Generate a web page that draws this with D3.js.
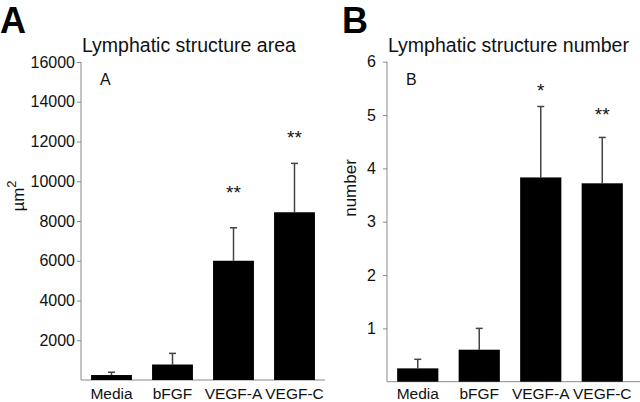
<!DOCTYPE html>
<html>
<head>
<meta charset="utf-8">
<script src="https://cdn.jsdelivr.net/npm/d3@7"></script>
<style>
  html, body { margin: 0; padding: 0; background: #fff; }
  svg { display: block; font-family: "Liberation Sans", Arial, Helvetica, sans-serif; }
</style>
</head>
<body>
<svg id="chart" width="640" height="402"></svg>
<script>
// ---- data ----
const categories = ["Media", "bFGF", "VEGF-A", "VEGF-C"];

const areaMean = [250, 780, 6000, 8440];
const areaErr  = [140, 560, 1660, 2460];
const areaSig  = ["", "", "**", "**"];
const areaSigAt = [null, null, 9600, 12400];
const areaTicks = [2000, 4000, 6000, 8000, 10000, 12000, 14000, 16000];

const numberMean = [0.25, 0.6, 3.83, 3.72];
const numberErr  = [0.17, 0.4, 1.33, 0.86];
const numberSig  = ["", "", "*", "**"];
const numberSigAt = [null, null, 5.53, 5.08];
const numberTicks = [1, 2, 3, 4, 5, 6];

// ---- drawing ----
const svg = d3.select("#chart");
const axisColor = "#8a8a8a";
const errColor = "#444";

function panel(cfg) {
  const g = svg.append("g");
  const y = d3.scaleLinear().domain([0, cfg.max]).range([cfg.y0, cfg.y1]);
  const x = d3.scaleBand().domain(categories).range([cfg.x0, cfg.x1])
    .paddingInner(0.33).paddingOuter(0.165);

  // big panel letter
  g.append("text").attr("x", cfg.letterX).attr("y", 33)
    .attr("font-size", 36).attr("font-weight", "bold").attr("fill", "#000")
    .text(cfg.letter);

  // title
  g.append("text").attr("x", cfg.x0 + 1).attr("y", 52)
    .attr("font-size", 19.5).attr("fill", "#111").text(cfg.title);

  // y axis
  const ax = g.append("g").attr("transform", `translate(${cfg.x0},0)`)
    .call(d3.axisLeft(y).tickValues(cfg.ticks).tickSize(4).tickPadding(cfg.tickPad)
      .tickFormat(d3.format("d")));
  ax.select(".domain").remove();
  ax.selectAll(".tick line").attr("stroke", axisColor);
  ax.selectAll(".tick text").attr("font-size", 16).attr("fill", "#111")
    .attr("font-family", "Liberation Sans, Arial, sans-serif");
  g.append("line").attr("x1", cfg.x0).attr("x2", cfg.x0)
    .attr("y1", y(cfg.max)).attr("y2", y(0)).attr("stroke", axisColor);
  // baseline
  g.append("line").attr("x1", cfg.x0).attr("x2", cfg.baseEnd)
    .attr("y1", y(0)).attr("y2", y(0)).attr("stroke", axisColor);

  // y label
  const yl = g.append("text")
    .attr("transform", `translate(${cfg.ylabX},${cfg.ylabY}) rotate(-90)`)
    .attr("text-anchor", "middle").attr("font-size", 17).attr("fill", "#111");
  yl.append("tspan").text(cfg.ylab);
  if (cfg.ysup) yl.append("tspan").attr("dy", -8).attr("font-size", 13).text(cfg.ysup);

  // inner letter
  g.append("text").attr("x", cfg.x0 + 19).attr("y", 85)
    .attr("font-size", 16).attr("fill", "#111").text(cfg.letter);

  // error bars
  const cap = 3.5;
  categories.forEach((c, i) => {
    const cx = x(c) + x.bandwidth() / 2;
    const top = y(cfg.mean[i] + cfg.err[i]);
    g.append("line").attr("x1", cx).attr("x2", cx)
      .attr("y1", y(cfg.mean[i])).attr("y2", top)
      .attr("stroke", errColor).attr("stroke-width", 1.5);
    g.append("line").attr("x1", cx - cap).attr("x2", cx + cap)
      .attr("y1", top).attr("y2", top)
      .attr("stroke", errColor).attr("stroke-width", 1.5);
  });

  // bars
  g.selectAll("rect.bar").data(categories).enter().append("rect")
    .attr("x", d => x(d)).attr("width", x.bandwidth())
    .attr("y", (d, i) => y(cfg.mean[i]))
    .attr("height", (d, i) => y(0) - y(cfg.mean[i]))
    .attr("fill", "#000");

  // significance marks
  categories.forEach((c, i) => {
    if (!cfg.sig[i]) return;
    g.append("text").attr("x", x(c) + x.bandwidth() / 2).attr("y", y(cfg.sigAt[i]) + 10)
      .attr("text-anchor", "middle").attr("font-size", 19).attr("fill", "#111")
      .text(cfg.sig[i]);
  });

  // category labels
  categories.forEach(c => {
    g.append("text").attr("x", x(c) + x.bandwidth() / 2).attr("y", 399)
      .attr("text-anchor", "middle").attr("font-size", 15.5).attr("fill", "#111")
      .text(c);
  });
}

panel({
  letter: "A", letterX: 0, title: "Lymphatic structure area",
  max: 16000, y0: 380, y1: 62, x0: 81, x1: 325, baseEnd: 325,
  ticks: areaTicks, tickPad: 2,
  ylab: "µm", ysup: "2", ylabX: 24, ylabY: 196,
  mean: areaMean, err: areaErr, sig: areaSig, sigAt: areaSigAt
});

panel({
  letter: "B", letterX: 342, title: "Lymphatic structure number",
  max: 6, y0: 381.7, y1: 61.7, x0: 387, x1: 633, baseEnd: 640,
  ticks: numberTicks, tickPad: 7,
  ylab: "number", ysup: null, ylabX: 356, ylabY: 188,
  mean: numberMean, err: numberErr, sig: numberSig, sigAt: numberSigAt
});
</script>
</body>
</html>
